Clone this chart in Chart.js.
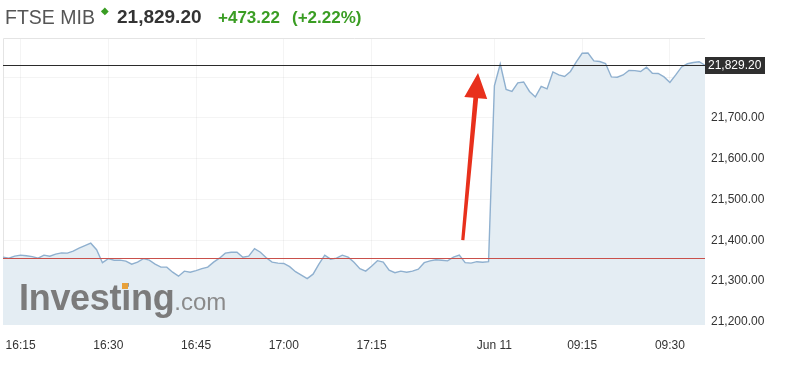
<!DOCTYPE html>
<html>
<head>
<meta charset="utf-8">
<script src="https://cdn.jsdelivr.net/npm/chart.js@4.4.0/dist/chart.umd.min.js"></script>
<style>
  html, body { margin: 0; padding: 0; background: #fff; }
  #wrap { position: relative; width: 785px; height: 370px; font-family: "Liberation Sans", Arial, sans-serif; }
  #chart { position: absolute; left: 0; top: 0; }
  .hd { position: absolute; top: 6px; white-space: nowrap; line-height: 22px; }
  #name { left: 5px; font-size: 19.5px; color: #555; }
  #tick { left: 101px; top: 5px; font-size: 10px; color: #3a9d23; line-height: 12px; }
  #price { left: 117px; font-size: 19px; font-weight: bold; color: #333; }
  #chg { left: 218px; font-size: 17px; font-weight: bold; color: #3a9d23; top: 7px; }
  #pct { left: 292px; font-size: 17px; font-weight: bold; color: #3a9d23; top: 7px; }
  #logo { position: absolute; left: 19px; top: 278px; white-space: nowrap; color: #7b7b7b; line-height: 40px; }
  #logo b { font-size: 36px; letter-spacing: -0.3px; }
  #logo span { font-size: 24px; color: #8a8a8a; }
  #dot { position: absolute; left: 122px; top: 283px; width: 6px; height: 6px; background: #e8a13a; }
</style>
</head>
<body>
<div id="wrap">
  <canvas id="chart" width="785" height="370"></canvas>
  <div class="hd" id="name">FTSE MIB</div>
  <div class="hd" id="tick">&#9670;</div>
  <div class="hd" id="price">21,829.20</div>
  <div class="hd" id="chg">+473.22</div>
  <div class="hd" id="pct">(+2.22%)</div>
  <div id="logo"><b>Investing</b><span>.com</span></div>
  <div id="dot"></div>
</div>
<script>
// trading sessions shown on the x axis (one point per minute)
const sessions = [
  { from: '16:12', to: '17:35' },   // Jun 10
  { from: '09:00', to: '09:36' }    // Jun 11
];

// FTSE MIB, 1-minute closes
const pricesJun10 = [
  21358.4, 21355.9, 21360.8, 21363.3, 21362.0, 21359.6, 21355.9, 21363.3, 21360.8, 21365.7,
  21368.9, 21368.2, 21373.1, 21380.4, 21386.5, 21392.7, 21376.7, 21344.9, 21354.7, 21351.0,
  21351.0, 21348.6, 21341.2, 21346.1, 21354.7, 21351.0, 21341.2, 21333.9, 21333.9, 21321.6,
  21311.8, 21324.1, 21321.6, 21325.3, 21330.2, 21333.9, 21346.1, 21355.9, 21368.2, 21370.6,
  21370.6, 21358.4, 21360.8, 21379.2, 21370.6, 21357.1, 21346.1, 21343.7, 21342.9, 21335.1,
  21322.8, 21314.3, 21305.7, 21316.7, 21341.2, 21363.3, 21353.5, 21355.9, 21363.3, 21358.4,
  21346.1, 21330.2, 21324.1, 21336.3, 21349.8, 21346.1, 21326.5, 21320.4, 21324.1, 21321.6,
  21324.1, 21328.9, 21344.9, 21349.3, 21352.2, 21351.0, 21349.3, 21358.4, 21363.3, 21344.9,
  21343.7, 21347.3, 21346.1, 21347.3
];
const pricesJun11 = [
  21778.4, 21832.3, 21769.8, 21764.9, 21785.8, 21788.2, 21764.9, 21751.5, 21777.2, 21771.1,
  21812.7, 21805.4, 21801.7, 21813.9, 21837.2, 21858.5, 21859.3, 21839.7, 21838.4, 21833.5,
  21800.5, 21799.7, 21805.4, 21816.4, 21815.9, 21813.9, 21824.2, 21809.5, 21809.0, 21800.5,
  21787.0, 21805.4, 21825.0, 21832.8, 21836.0, 21837.7, 21829.2
];

const prevClose = 21355.98;
const lastPrice = 21829.20;

const xTickLabels = ['16:15', '16:30', '16:45', '17:00', '17:15', '09:00', '09:15', '09:30'];
const xTickRename = { '09:00': 'Jun 11' };
const yTicks = [21200, 21300, 21400, 21500, 21600, 21700, 21800];
const yLabelled = [21200, 21300, 21400, 21500, 21600, 21700];

// red arrow annotation, in data units (category index, price)
const arrow = { fromIndex: 78.6, fromValue: 21400, toIndex: 81.2, toValue: 21810 };

function minutes(t) { const p = t.split(':'); return +p[0] * 60 + +p[1]; }
function hhmm(m) { return String(Math.floor(m / 60)).padStart(2, '0') + ':' + String(m % 60).padStart(2, '0'); }

const labels = [];
sessions.forEach(s => {
  for (let m = minutes(s.from); m <= minutes(s.to); m++) labels.push(hhmm(m));
});
const prices = pricesJun10.concat(pricesJun11);

const fmt = v => v.toLocaleString('en-US', { minimumFractionDigits: 2, maximumFractionDigits: 2 });

const overlay = {
  id: 'overlay',
  beforeDatasetsDraw(chart) {
    const { ctx, chartArea: a } = chart;
    ctx.save();
    ctx.strokeStyle = '#e4e4e4';
    ctx.lineWidth = 1;
    ctx.beginPath();
    ctx.moveTo(a.left + 0.5, a.bottom);
    ctx.lineTo(a.left + 0.5, a.top + 0.5);
    ctx.lineTo(a.right, a.top + 0.5);
    ctx.stroke();
    ctx.restore();
  },
  afterDatasetsDraw(chart) {
    const { ctx, chartArea: a, scales: { x, y } } = chart;
    ctx.save();
    // previous close
    let py = Math.round(y.getPixelForValue(prevClose)) + 0.5;
    ctx.strokeStyle = '#c9504b';
    ctx.lineWidth = 1;
    ctx.beginPath(); ctx.moveTo(a.left, py); ctx.lineTo(a.right, py); ctx.stroke();
    // last price
    py = Math.round(y.getPixelForValue(lastPrice)) + 0.5;
    ctx.strokeStyle = '#2b2b2b';
    ctx.beginPath(); ctx.moveTo(a.left, py); ctx.lineTo(a.right, py); ctx.stroke();
    // price tag
    ctx.fillStyle = '#2f2f2f';
    ctx.fillRect(a.right, py - 8.5, 60, 17);
    ctx.fillStyle = '#fff';
    ctx.font = '12px "Liberation Sans", Arial, sans-serif';
    ctx.textBaseline = 'middle';
    ctx.fillText(fmt(lastPrice), a.right + 3, py + 0.5);

    // arrow
    const x0 = x.getPixelForValue(arrow.fromIndex), y0 = y.getPixelForValue(arrow.fromValue);
    const x1 = x.getPixelForValue(arrow.toIndex), y1 = y.getPixelForValue(arrow.toValue);
    const ang = Math.atan2(y1 - y0, x1 - x0);
    const headLen = 25, headHalf = 11.5;
    const bx = x1 - headLen * Math.cos(ang), by = y1 - headLen * Math.sin(ang);
    const nx = -Math.sin(ang), ny = Math.cos(ang);
    ctx.fillStyle = '#e8301c';
    ctx.beginPath();
    ctx.moveTo(x0 + nx * 1.6, y0 + ny * 1.6);
    ctx.lineTo(bx + nx * 2.4, by + ny * 2.4);
    ctx.lineTo(bx + nx * headHalf, by + ny * headHalf);
    ctx.lineTo(x1, y1);
    ctx.lineTo(bx - nx * headHalf, by - ny * headHalf);
    ctx.lineTo(bx - nx * 2.4, by - ny * 2.4);
    ctx.lineTo(x0 - nx * 1.6, y0 - ny * 1.6);
    ctx.closePath();
    ctx.fill();
    ctx.restore();
  }
};

new Chart(document.getElementById('chart'), {
  type: 'line',
  data: {
    labels: labels,
    datasets: [{
      data: prices,
      borderColor: '#8fb0cf',
      borderWidth: 1.4,
      backgroundColor: '#e4edf3',
      fill: 'start',
      pointRadius: 0,
      tension: 0
    }]
  },
  options: {
    responsive: false,
    animation: false,
    events: [],
    layout: { padding: { left: 3, top: 38, right: 0, bottom: 0 } },
    plugins: { legend: { display: false }, tooltip: { enabled: false } },
    scales: {
      x: {
        type: 'category',
        offset: false,
        border: { display: false },
        grid: { color: 'rgba(0,0,0,0.045)', drawTicks: false },
        afterBuildTicks(axis) {
          axis.ticks = xTickLabels.map(l => ({ value: labels.indexOf(l) }));
        },
        afterFit(axis) {
          axis.height = 45;
          axis.paddingLeft = 0;
          axis.paddingRight = 0;
        },
        ticks: {
          autoSkip: false,
          maxRotation: 0,
          padding: 13,
          color: '#333',
          font: { family: '"Liberation Sans", Arial, sans-serif', size: 12 },
          callback(value) {
            const l = labels[value];
            return xTickRename[l] || l;
          }
        }
      },
      y: {
        position: 'right',
        min: 21192,
        max: 21896,
        border: { display: false },
        grid: { color: 'rgba(0,0,0,0.045)', drawTicks: false },
        afterBuildTicks(axis) {
          axis.ticks = yTicks.map(v => ({ value: v }));
        },
        afterFit(axis) {
          axis.width = 80;
          axis.paddingTop = 0;
          axis.paddingBottom = 0;
        },
        ticks: {
          padding: 6,
          color: '#333',
          font: { family: '"Liberation Sans", Arial, sans-serif', size: 12 },
          callback(value) { return yLabelled.includes(value) ? fmt(value) : ''; }
        }
      }
    }
  },
  plugins: [overlay]
});
</script>
</body>
</html>
